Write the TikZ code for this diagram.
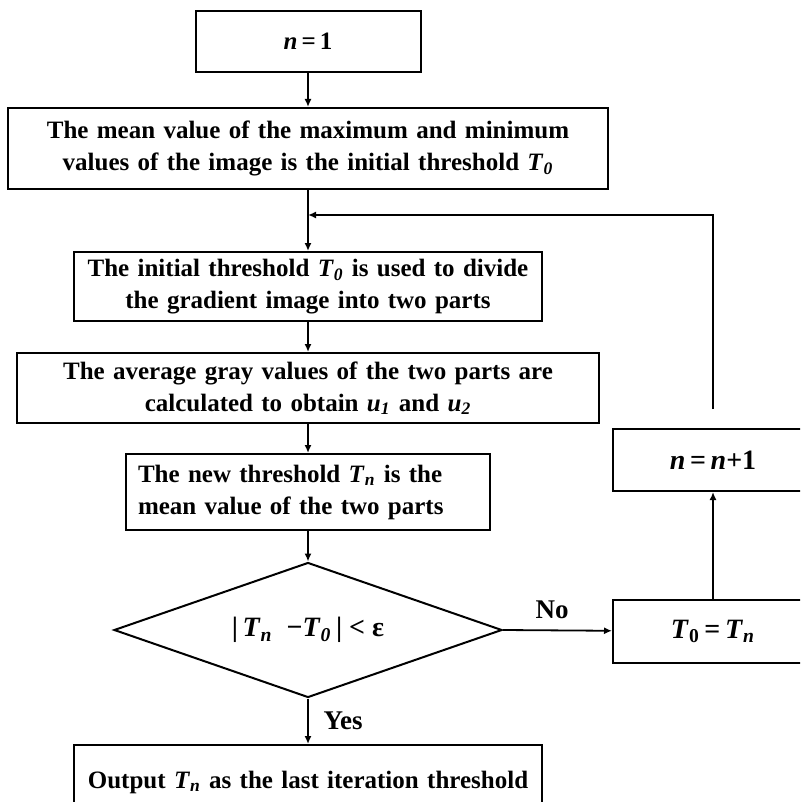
\documentclass[tikz,border=0pt]{standalone}
\usepackage{fontspec}
\setmainfont{Liberation Serif}
\usepackage{tikz}
\usetikzlibrary{positioning,arrows.meta,shapes.geometric}

\newcommand{\Tz}{\textit{T}\textsubscript{\textit{0}}}
\newcommand{\Tn}{\textit{T}\textsubscript{\textit{n}}}

\tikzset{
	box/.style={draw,line width=1pt,inner xsep=6pt,inner ysep=0pt,font=\fontsize{12.5}{16}\selectfont\bfseries},
	flow/.style={-{Latex[length=4pt,width=3.5pt]},line width=0.9pt},
	lbl/.style={font=\fontsize{13.5}{16}\selectfont\bfseries},
	big/.style={font=\fontsize{14}{16}\selectfont\bfseries}
}

\begin{document}
\begin{tikzpicture}[x=0.5pt,y=-0.5pt]
			\clip (0,0) rectangle (800,802);
			\foreach \y/\w/\h/\a/\t [count=\n] in
			{41.5/100.5pt/30.5pt/center/{\textit{n}\,=\,1},
			 148.5/288pt/40.5pt/center/{The mean value of the maximum and minimum\\values of the image is the initial threshold \Tz},
			 286.5/222pt/34.5pt/center/{The initial threshold \Tz\ is used to divide\\the gradient image into two parts},
			 388/279pt/35pt/center/{The average gray values of the two parts are\\calculated to obtain \textit{u}\textsubscript{\textit{1}} and \textit{u}\textsubscript{\textit{2}}},
			 492/170pt/38pt/left/{The new threshold \Tn\ is the\\mean value of the two parts}}
			\node[box,text width=\w,minimum height=\h,align=\a] (N\n) at (308,\y) {\t};
			
			\node[box,big,diamond,minimum width=194pt,minimum height=67.5pt,aspect=2.87,inner sep=0pt] (chk) at (308,630) {|\,\Tn\ \ −\Tz\,| < ε};
			\node[box,text width=222pt,minimum height=37pt,align=center] (out) at (308,782) {Output \Tn\ as the last iteration threshold};
			\node[box,big,text width=88pt,minimum height=31pt,align=center] (inc) at (713,460) {\textit{n}\,=\,\textit{n}+1};
			\node[box,big,text width=88pt,minimum height=31.5pt,align=center] (upd) at (713,631.5) {\textit{T}\textsubscript{0}\,=\,\Tn};
			\coordinate (fb) at (308,215);
			
			\foreach \a/\b in {N1/N2,N2/N3,N3/N4,N4/N5}
			\draw[flow] (\a) -- (\b);
			\draw[flow] (N5) -- (chk.north);
			\draw[flow] (chk.south) -- node[lbl,right=4pt]{Yes} (out);
			\draw[flow] (chk.east) -- node[lbl,above=2pt,pos=0.45]{No} (upd);
			\draw[flow] (upd) -- (inc);
			\draw[flow,shorten <=9.5pt] (inc.north) |- (fb);
		\end{tikzpicture}
\end{document}
